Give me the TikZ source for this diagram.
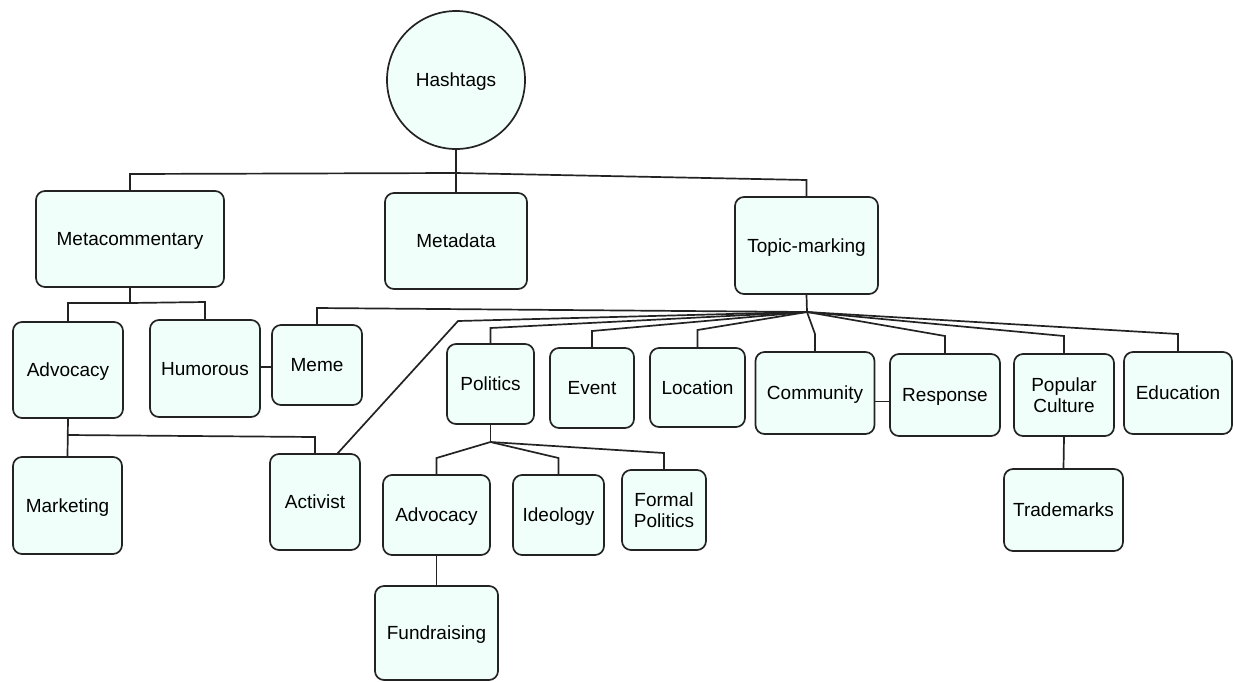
\documentclass[tikz,border=0pt]{standalone}
\usepackage{fontspec}
\setmainfont{Liberation Sans}
\definecolor{boxfill}{RGB}{240,255,250}
\definecolor{edge}{RGB}{35,35,35}
\begin{document}
\begin{tikzpicture}[x=1pt,y=-1pt,
  box/.style={draw=edge, fill=boxfill, rounded corners=9pt, line width=1.7pt,
    align=center, inner sep=0pt, text depth=0pt, font=\fontsize{19}{21.5}\selectfont},
  hub/.style={draw=edge, fill=boxfill, circle, line width=1.7pt, inner sep=0pt,
    text depth=0pt, minimum size=138pt, font=\fontsize{19}{21.5}\selectfont},
  link/.style={draw=edge, line width=1.7pt}]
\useasboundingbox (0,0) rectangle (1233,681);

% nodes
\node[hub] (hash) at (456,80) {Hashtags};
\node[box, minimum width=188pt, minimum height=96pt] (meta) at (130,239) {Metacommentary};
\node[box, minimum width=142pt, minimum height=96pt] (metadata) at (456,241) {Metadata};
\node[box, minimum width=143pt, minimum height=97pt] (topic) at (806.5,245.5) {Topic-marking};

\node[box, minimum width=110pt, minimum height=96pt] (adv1) at (68,370) {Advocacy};
\node[box, minimum width=110pt, minimum height=97pt] (hum) at (205,368.5) {Humorous};
\node[box, minimum width=90pt, minimum height=80pt] (meme) at (317,365) {Meme};
\node[box, minimum width=109pt, minimum height=97pt] (mkt) at (67.5,505.5) {Marketing};
\node[box, minimum width=90pt, minimum height=96pt] (act) at (315,502) {Activist};

\node[box, minimum width=87pt, minimum height=80pt] (pol) at (490.5,384) {Politics};
\node[box, minimum width=84pt, minimum height=80pt] (event) at (592,388) {Event};
\node[box, minimum width=95pt, minimum height=79pt] (loc) at (697.5,387.5) {Location};
\node[box, minimum width=119pt, minimum height=82pt] (comm) at (815,393) {Community};
\node[box, minimum width=110pt, minimum height=82pt] (resp) at (945,395) {Response};
\node[box, minimum width=100pt, minimum height=82pt] (pop) at (1064,395) {Popular\\Culture};
\node[box, minimum width=108pt, minimum height=82pt] (edu) at (1178,393) {Education};
\node[box, minimum width=119pt, minimum height=82pt] (trade) at (1063.5,510) {Trademarks};

\node[box, minimum width=107pt, minimum height=80pt] (adv2) at (436.5,515) {Advocacy};
\node[box, minimum width=91pt, minimum height=80pt] (ideo) at (558.5,515) {Ideology};
\node[box, minimum width=84pt, minimum height=80pt] (formal) at (664,510) {Formal\\Politics};
\node[box, minimum width=123pt, minimum height=94pt] (fund) at (436.5,633) {Fundraising};

% bend coordinates
\coordinate (h0) at (456,173);
\coordinate (mb) at (130,174);
\coordinate (tb) at (806.5,180);
\coordinate (m0) at (130,303);
\coordinate (a1b) at (68,303);
\coordinate (hb) at (205,302);
\coordinate (lk) at (266,367);
\coordinate (a0) at (68,435);
\coordinate (ab) at (315,437);
\coordinate (t0) at (807,312);
\coordinate (memeb) at (317,308);
\coordinate (actb) at (458,321);
\coordinate (acte) at (337,454);
\coordinate (polb) at (490.5,328);
\coordinate (evb) at (592,331);
\coordinate (locb) at (697.5,330);
\coordinate (comb) at (815,334);
\coordinate (resb) at (945,336);
\coordinate (popb) at (1064,336);
\coordinate (edb) at (1178,334);
\coordinate (crl) at (880,401.5);
\coordinate (p0) at (490.5,442);
\coordinate (adb) at (436.5,458);
\coordinate (idb) at (558.5,458);
\coordinate (fob) at (664,453);

% connectors: top level
\draw[link] (hash.south) -- (h0) -- (metadata.north);
\draw[link] (h0) -- (mb) -- (meta.north);
\draw[link] (h0) -- (tb) -- (topic.north);

% metacommentary subtree
\draw[link] (meta.south) -- (m0);
\draw[link] (m0) -- (a1b) -- (adv1.north);
\draw[link] (m0) -- (hb) -- (hum.north);
\draw[link] (hum.east |- lk) -- (meme.west |- lk);
\draw[link] (adv1.south) -- (mkt.north);
\draw[link] (a0) -- (ab) -- (act.north);

% topic-marking subtree
\draw[link] (topic.south) -- (t0);
\draw[link] (t0) -- (memeb) -- (meme.north);
\draw[link] (t0) -- (actb) -- (acte);
\draw[link] (t0) -- (polb) -- (pol.north);
\draw[link] (t0) -- (evb) -- (event.north);
\draw[link] (t0) -- (locb) -- (loc.north);
\draw[link] (t0) -- (comb) -- (comm.north);
\draw[link] (t0) -- (resb) -- (resp.north);
\draw[link] (t0) -- (popb) -- (pop.north);
\draw[link] (t0) -- (edb) -- (edu.north);
\draw[link] (comm.east |- crl) -- (resp.west |- crl);
\draw[link] (pop.south) -- (trade.north);

% politics subtree
\draw[link] (pol.south) -- (p0);
\draw[link] (p0) -- (adb) -- (adv2.north);
\draw[link] (p0) -- (idb) -- (ideo.north);
\draw[link] (p0) -- (fob) -- (formal.north);
\draw[link] (adv2.south) -- (fund.north);
\end{tikzpicture}
\end{document}
